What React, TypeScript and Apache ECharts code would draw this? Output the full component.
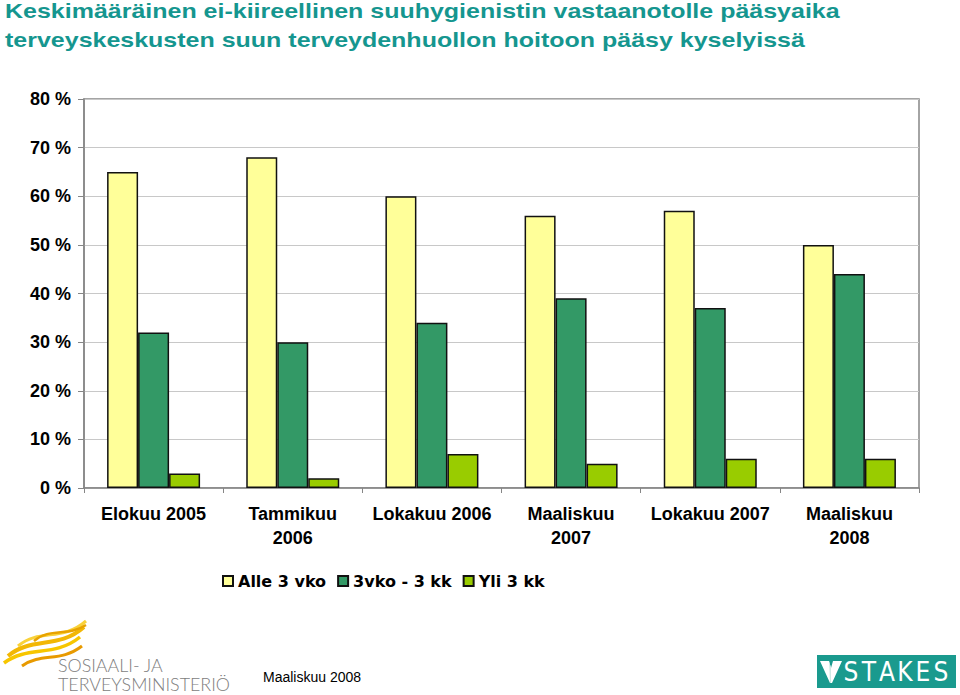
import React, { useEffect, useRef } from "react";
import * as echarts from "echarts";

const categories = [
  "Elokuu 2005",
  "Tammikuu\n2006",
  "Lokakuu 2006",
  "Maaliskuu\n2007",
  "Lokakuu 2007",
  "Maaliskuu\n2008",
];
const seriesNames = ["Alle 3 vko", "3vko - 3 kk", "Yli 3 kk"];
const alle3vko = [65, 68, 60, 56, 57, 50];
const vko3kk3 = [32, 30, 34, 39, 37, 44];
const yli3kk = [3, 2, 7, 5, 6, 6];
const yTicks = { min: 0, max: 80, interval: 10 };
const titleLines = [
  "Keskimääräinen ei-kiireellinen suuhygienistin vastaanotolle pääsyaika",
  "terveyskeskusten suun terveydenhuollon hoitoon pääsy kyselyissä",
];
const footerDate = "Maaliskuu 2008";
const stmLines = ["SOSIAALI- JA", "TERVEYSMINISTERIÖ"];
const stakesLetters = ["S", "T", "A", "K", "E", "S"];

export default function App() {
  const ref = useRef<HTMLDivElement>(null);
  useEffect(() => {
    if (!ref.current) return;
    const chart = echarts.init(ref.current, undefined, { renderer: "svg" });
    const colors = ["#ffff99", "#339966", "#99cc00"];
    const data = [alle3vko, vko3kk3, yli3kk];
    const teal = "#15968f";
    const arial = "'Liberation Sans', Arial, sans-serif";
    chart.setOption({
      animation: false,
      color: colors,
      textStyle: { fontFamily: arial },
      grid: {
        left: 84,
        right: 41,
        top: 99,
        bottom: 207,
        show: true,
        borderColor: "#868686",
        borderWidth: 1.5,
        backgroundColor: "transparent",
      },
      legend: {
        left: 217,
        top: 568,
        icon: "rect",
        itemWidth: 10,
        itemHeight: 10,
        itemGap: 11,
        data: seriesNames,
        textStyle: {
          fontSize: 16,
          fontWeight: "bold",
          color: "#000",
          fontFamily: "'DejaVu Sans', sans-serif",
        },
      },
      xAxis: {
        type: "category",
        data: categories,
        axisLine: { lineStyle: { color: "#868686", width: 1.5 } },
        axisTick: { show: true, length: 5, lineStyle: { color: "#868686" } },
        axisLabel: {
          color: "#000",
          fontSize: 18,
          fontWeight: "bold",
          margin: 14,
          lineHeight: 24,
          interval: 0,
        },
      },
      yAxis: {
        type: "value",
        min: yTicks.min,
        max: yTicks.max,
        interval: yTicks.interval,
        axisLine: { show: true, lineStyle: { color: "#868686", width: 1.5 } },
        axisTick: { show: true, length: 6, lineStyle: { color: "#868686" } },
        splitLine: { lineStyle: { color: "#c8c8c8", width: 1.2 } },
        axisLabel: {
          color: "#000",
          fontSize: 18,
          fontWeight: "bold",
          margin: 13,
          formatter: "{value} %",
        },
      },
      series: seriesNames.map((name, i) => ({
        name,
        type: "bar",
        data: data[i],
        barWidth: 31,
        barGap: "0%",
        itemStyle: { color: colors[i], borderColor: "#111", borderWidth: 1.5 },
      })),
      graphic: [
        {
          type: "text",
          x: 5,
          y: 11,
          scaleX: 1.19,
          style: {
            text: titleLines[0],
            fill: teal,
            font: `bold 21px ${arial}`,
            textVerticalAlign: "middle",
          },
        },
        {
          type: "text",
          x: 5,
          y: 40,
          scaleX: 1.19,
          style: {
            text: titleLines[1],
            fill: teal,
            font: `bold 21px ${arial}`,
            textVerticalAlign: "middle",
          },
        },
        // STM logo waves
        {
          type: "bezierCurve",
          shape: { x1: 8, y1: 656, x2: 84, y2: 627, cpx1: 32, cpy1: 636, cpx2: 58, cpy2: 650 },
          style: { stroke: "#f2b705", lineWidth: 4, fill: null },
        },
        {
          type: "bezierCurve",
          shape: { x1: 4, y1: 663, x2: 80, y2: 637, cpx1: 28, cpy1: 645, cpx2: 54, cpy2: 658 },
          style: { stroke: "#f7c600", lineWidth: 3.5, fill: null },
        },
        {
          type: "bezierCurve",
          shape: { x1: 18, y1: 646, x2: 86, y2: 621, cpx1: 40, cpy1: 628, cpx2: 62, cpy2: 642 },
          style: { stroke: "#f9d23a", lineWidth: 3, fill: null },
        },
        {
          type: "bezierCurve",
          shape: { x1: 22, y1: 666, x2: 82, y2: 646, cpx1: 42, cpy1: 652, cpx2: 60, cpy2: 663 },
          style: { stroke: "#e89a00", lineWidth: 3, fill: null },
        },
        {
          type: "bezierCurve",
          shape: { x1: 34, y1: 641, x2: 86, y2: 625, cpx1: 50, cpy1: 627, cpx2: 68, cpy2: 637 },
          style: { stroke: "#e8a300", lineWidth: 2.5, fill: null },
        },
        {
          type: "text",
          x: 58,
          y: 666,
          scaleX: 1.05,
          style: {
            text: stmLines[0],
            fill: "#7d7d7d",
            font: "300 17px Lato, 'Open Sans', sans-serif",
            lineHeight: 16,
            textVerticalAlign: "middle",
          },
        },
        {
          type: "text",
          x: 58,
          y: 685,
          scaleX: 1.05,
          style: {
            text: stmLines[1],
            fill: "#7d7d7d",
            font: "300 17px Lato, 'Open Sans', sans-serif",
            lineHeight: 16,
            textVerticalAlign: "middle",
          },
        },
        {
          type: "text",
          x: 263,
          y: 677,
          style: {
            text: footerDate,
            fill: "#000",
            font: `14px ${arial}`,
            textVerticalAlign: "middle",
          },
        },
        // STAKES logo
        {
          type: "rect",
          shape: { x: 817, y: 655, width: 139, height: 33 },
          style: { fill: "#1a9a8e" },
        },
        {
          type: "polygon",
          shape: {
            points: [
              [820, 661],
              [829, 661],
              [831, 668],
              [833, 661],
              [842, 661],
              [832, 683],
              [830, 683],
            ],
          },
          style: { fill: "#fff" },
        },
        {
          type: "polygon",
          shape: { points: [[829, 661], [831, 668], [831, 683], [830, 683]] },
          style: { fill: "#cfe9e4" },
        },
        ...stakesLetters.map((ch, i) => ({
          type: "text",
          x: 851 + i * 18,
          y: 672,
          style: {
            text: ch,
            fill: "#fff",
            font: "26px 'Liberation Sans Narrow', 'DejaVu Sans Condensed', sans-serif",
            textAlign: "center",
            textVerticalAlign: "middle",
          },
        })),
      ],
    });
    return () => chart.dispose();
  }, []);
  return (
    <div
      ref={ref}
      style={{ position: "fixed", left: 0, top: 0, width: 960, height: 695, background: "#fff" }}
    />
  );
}
